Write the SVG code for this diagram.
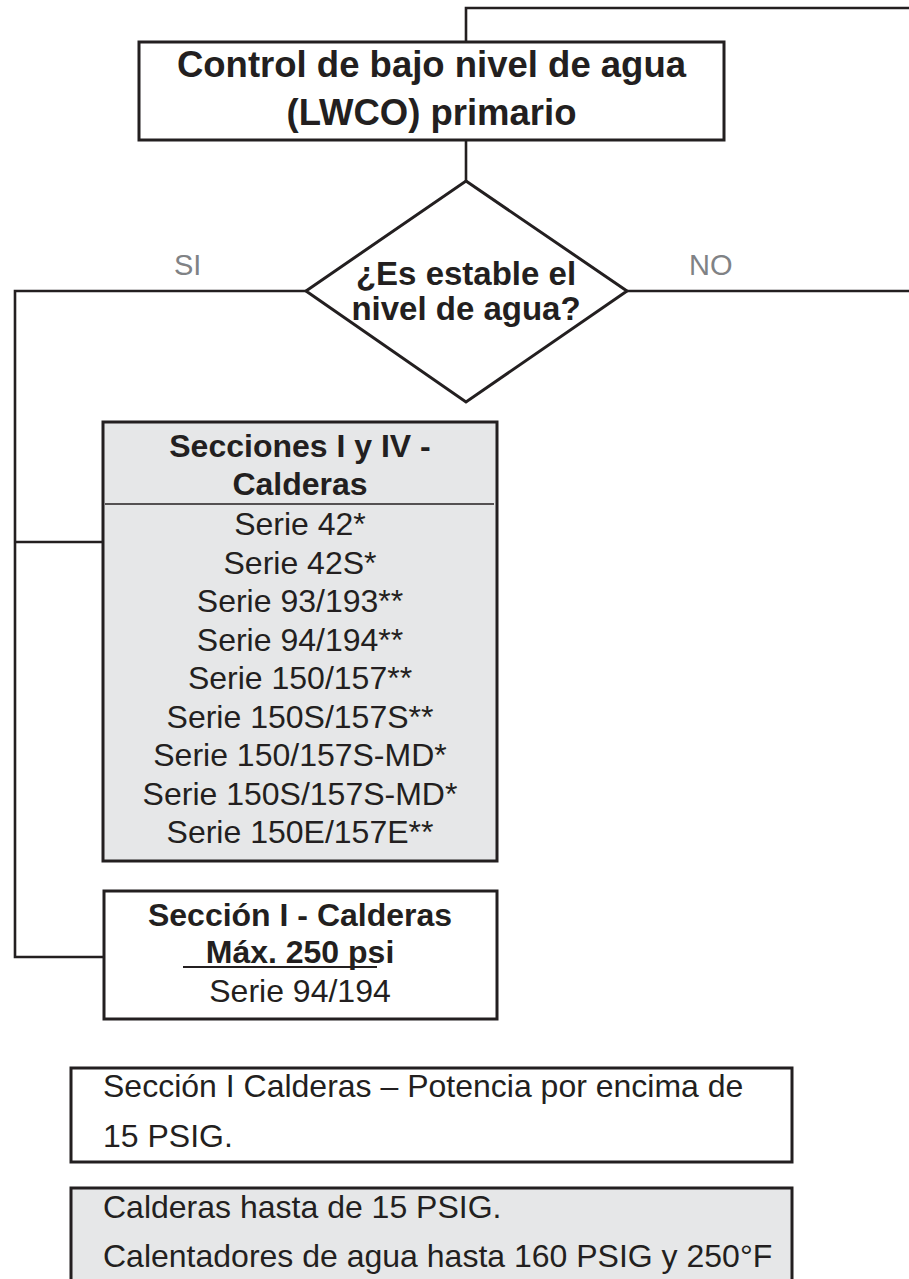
<svg xmlns="http://www.w3.org/2000/svg" width="909" height="1279" viewBox="0 0 909 1279">
<style>
.box{stroke:#231f20;stroke-width:3;fill:#ffffff}
.gray{fill:#e6e7e8}
.ln{stroke:#231f20;stroke-width:2.6;fill:none}
text{font-family:"Liberation Sans",Arial,sans-serif;fill:#231f20}
.b{font-weight:bold}
.c{text-anchor:middle}
.lbl{fill:#808285;font-size:29px}
</style>
<rect width="909" height="1279" fill="#ffffff"/>
<g id="connectors">
<polyline class="ln" points="466,42 466,8 909,8"/>
<line class="ln" x1="466" y1="140" x2="466" y2="181"/>
<polyline class="ln" points="306,291 15,291 15,957 104,957"/>
<line class="ln" x1="15" y1="542" x2="103" y2="542"/>
<line class="ln" x1="627" y1="291" x2="909" y2="291"/>
<text class="lbl" x="174" y="275">SI</text>
<text class="lbl" x="689" y="275">NO</text>
</g>
<g id="lwco">
<rect class="box" x="139" y="42" width="585" height="98"/>
<text class="b c" x="431.5" y="77" font-size="36.5">Control de bajo nivel de agua</text>
<text class="b c" x="431.5" y="125" font-size="36.5">(LWCO) primario</text>
</g>
<g id="decision">
<polygon class="box" points="466,181 627,291 466,402 306,291"/>
<text class="b c" x="466" y="285" font-size="33">¿Es estable el</text>
<text class="b c" x="466" y="320" font-size="33">nivel de agua?</text>
</g>
<g id="secciones">
<rect class="box gray" x="103" y="422" width="394" height="439"/>
<text class="b c" x="300" y="457" font-size="32">Secciones I y IV -</text>
<text class="b c" x="300" y="495" font-size="32">Calderas</text>
<line x1="105" y1="504" x2="494" y2="504" stroke="#231f20" stroke-width="1.5"/>
<g font-size="32" text-anchor="middle">
<text x="300" y="535">Serie 42*</text>
<text x="300" y="573.5">Serie 42S*</text>
<text x="300" y="612">Serie 93/193**</text>
<text x="300" y="650.5">Serie 94/194**</text>
<text x="300" y="689">Serie 150/157**</text>
<text x="300" y="727.5">Serie 150S/157S**</text>
<text x="300" y="766">Serie 150/157S-MD*</text>
<text x="300" y="804.5">Serie 150S/157S-MD*</text>
<text x="300" y="843">Serie 150E/157E**</text>
</g>
</g>
<g id="seccion1">
<rect class="box" x="104" y="891" width="393" height="128"/>
<text class="b c" x="300" y="926" font-size="32">Sección I - Calderas</text>
<text class="b c" x="300" y="963" font-size="32">Máx. 250 psi</text>
<line x1="183" y1="967" x2="377" y2="967" stroke="#231f20" stroke-width="1.8"/>
<text class="c" x="300" y="1002" font-size="32">Serie 94/194</text>
</g>
<g id="legend1">
<rect class="box" x="71" y="1068" width="721" height="94"/>
<text x="103" y="1097" font-size="32">Sección I Calderas – Potencia por encima de</text>
<text x="103" y="1147" font-size="32">15 PSIG.</text>
</g>
<g id="legend2">
<rect class="box gray" x="71" y="1188" width="721" height="110"/>
<text x="103" y="1218" font-size="32">Calderas hasta de 15 PSIG.</text>
<text x="103" y="1267" font-size="32">Calentadores de agua hasta 160 PSIG y 250°F</text>
</g>
</svg>
